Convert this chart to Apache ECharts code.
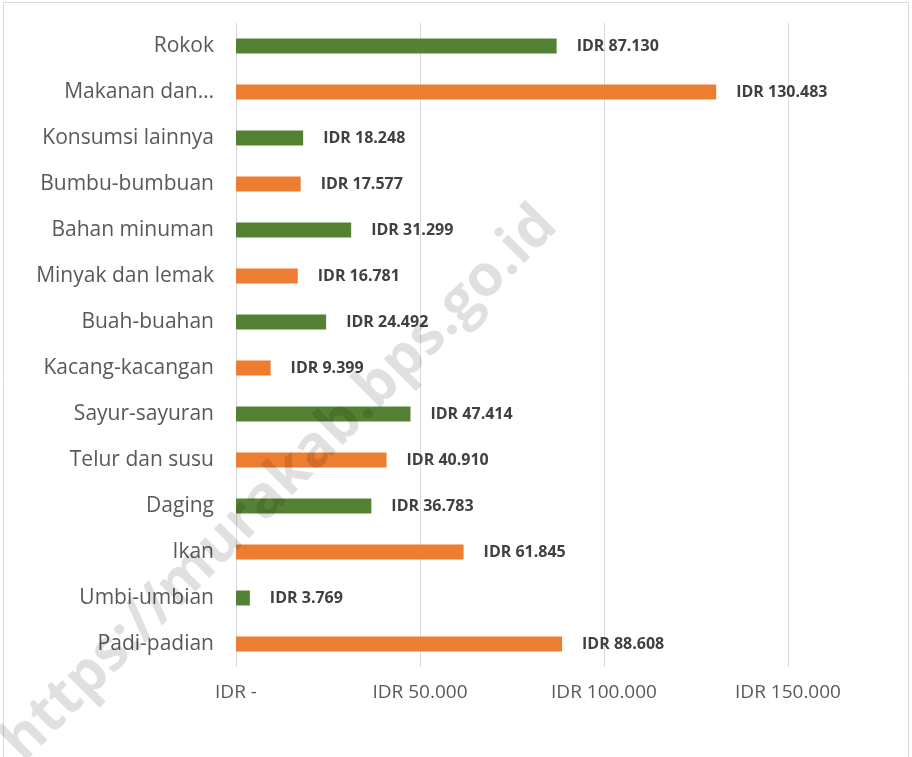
<!DOCTYPE html>
<html>
<head>
<meta charset="utf-8">
<script src="https://cdn.jsdelivr.net/npm/echarts@6/dist/echarts.min.js"></script>
<style>
html,body{margin:0;padding:0;background:#fff;}
#c{width:912px;height:757px;}
</style>
</head>
<body>
<div id="c"></div>
<script>
const categories = ["Rokok","Makanan dan…","Konsumsi lainnya","Bumbu-bumbuan","Bahan minuman","Minyak dan lemak","Buah-buahan","Kacang-kacangan","Sayur-sayuran","Telur dan susu","Daging","Ikan","Umbi-umbian","Padi-padian"];
const values = [87130,130483,18248,17577,31299,16781,24492,9399,47414,40910,36783,61845,3769,88608];
const barColors = ["#548235","#ED7D31"];
const xTicks = [0,50000,100000,150000];

function fmt(v){
  if (v === 0) return "IDR -";
  return "IDR " + String(Math.round(v)).replace(/\B(?=(\d{3})+(?!\d))/g, ".");
}

const chart = echarts.init(document.getElementById('c'));
chart.setOption({
  backgroundColor: '#fff',
  animation: false,
  grid: {left: 236, top: 23, width: 552, height: 644, containLabel: false},
  xAxis: {
    type: 'value',
    min: xTicks[0],
    max: xTicks[xTicks.length-1],
    interval: xTicks[1]-xTicks[0],
    axisLine: {show: false},
    axisTick: {show: false},
    splitLine: {show: true, lineStyle: {color: '#d9d9d9', width: 1}},
    axisLabel: {formatter: fmt, color: '#595959', fontSize: 19, fontFamily: 'Open Sans', margin: 16}
  },
  yAxis: {
    type: 'category',
    data: categories,
    inverse: true,
    axisLine: {show: false},
    axisTick: {show: false},
    axisLabel: {color: '#595959', fontSize: 21, fontFamily: 'Open Sans', margin: 22}
  },
  series: [{
    type: 'bar',
    data: values.map((v,i)=>({value: v, itemStyle: {color: barColors[i%2]}})),
    barWidth: 15,
    z: 2,
    label: {
      show: true, position: 'right', distance: 20,
      formatter: p => fmt(p.value),
      color: '#404040', fontSize: 16, fontWeight: 'bold', fontFamily: 'Open Sans'
    }
  }],
  graphic: [
    {type: 'rect', shape: {x: 3.5, y: 2.5, width: 905, height: 760}, style: {fill: 'none', stroke: '#d9d9d9', lineWidth: 1}, silent: true},
    {type: 'text', x: 280, y: 484, rotation: Math.PI/4, z: 100, silent: true,
     style: {text: 'https://murakab.bps.go.id', fontSize: 58, fontWeight: 'bold', fontFamily: 'Open Sans', fill: 'rgba(0,0,0,0.12)', align: 'center', verticalAlign: 'middle'}}
  ]
});
</script>
</body>
</html>
